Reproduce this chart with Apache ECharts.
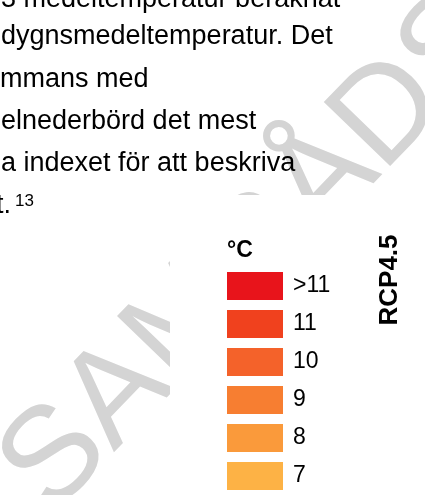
<!DOCTYPE html>
<html><head><meta charset="utf-8">
<script src="https://cdn.jsdelivr.net/npm/echarts@6/dist/echarts.min.js"></script>
<style>html,body{margin:0;padding:0;background:#fff}#c{width:425px;height:495px}</style>
</head><body><div id="c"></div>
<script>
// ---- content ----
const bodyLines = ['3 medeltemperatur beräknat', 'dygnsmedeltemperatur. Det', 'mmans med', 'elnederbörd det mest', 'a indexet för att beskriva', 't.'];
const footnote = '13';
const legendLabels = ['>11', '11', '10', '9', '8', '7'];
const legendValues = [12, 11, 10, 9, 8, 7];
const legendColors = ['#E8141B', '#F0411E', '#F4622A', '#F77E31', '#FA9A3B', '#FDB245'];
const unitLabel = '°C';
const scenarioLabel = 'RCP4.5';
const watermarkText = 'SAMRÅDSHANDLING';

// ---- layout ----
const FONT = '"Liberation Sans", Arial, sans-serif';
const lineX = [1, 1, 0, 1, 1, -4];
const lineBase = [8, 45, 88, 130, 172, 214];
const bodySize = 27;

const graphics = [];
graphics.push({
  type: 'text', x: 25, y: 491, rotation: 46 * Math.PI / 180, z: 0,
  style: { text: watermarkText, font: '134px ' + FONT, fill: '#D4D4D4', align: 'left', verticalAlign: 'middle' }
});
graphics.push({ type: 'rect', z: 1, shape: { x: 170, y: 195, width: 255, height: 300 }, style: { fill: '#fff' } });
bodyLines.forEach(function (t, i) {
  graphics.push({
    type: 'text', x: lineX[i], y: lineBase[i] - bodySize * 0.3, z: 2,
    style: { text: t, font: bodySize + 'px ' + FONT, fill: '#000', align: 'left', verticalAlign: 'middle' }
  });
});
graphics.push({
  type: 'text', x: 15, y: lineBase[5] - 13, z: 2,
  style: { text: footnote, font: '17px ' + FONT, fill: '#000', align: 'left', verticalAlign: 'middle' }
});
graphics.push({
  type: 'text', x: 227, y: 251, z: 2,
  style: { text: unitLabel, font: 'bold 23px ' + FONT, fill: '#000', align: 'left', verticalAlign: 'middle' }
});
graphics.push({
  type: 'text', x: 390, y: 280, rotation: Math.PI / 2, z: 2,
  style: { text: scenarioLabel, font: 'bold 26px ' + FONT, fill: '#000', align: 'center', verticalAlign: 'middle' }
});

const pieces = legendLabels.map(function (l, i) {
  const p = { label: l, color: legendColors[i] };
  if (l.charAt(0) === '>') p.gt = legendValues[i] - 1; else p.value = legendValues[i];
  return p;
}).reverse();

const chart = echarts.init(document.getElementById('c'), null, { renderer: 'canvas' });
chart.setOption({
  animation: false,
  backgroundColor: '#fff',
  graphic: graphics,
  xAxis: { show: false }, yAxis: { show: false },
  grid: { left: 0, top: 0, width: 1, height: 1 },
  series: [{ type: 'scatter', data: [] }],
  visualMap: {
    type: 'piecewise', seriesIndex: 0, orient: 'vertical', align: 'left',
    left: 227, top: 272, padding: 0,
    itemWidth: 56, itemHeight: 28, itemGap: 10, textGap: 10,
    itemSymbol: 'rect', selectedMode: false, hoverLink: false,
    pieces: pieces,
    textStyle: { fontSize: 23, fontFamily: FONT, color: '#000' },
    z: 5
  }
});
</script></body></html>
